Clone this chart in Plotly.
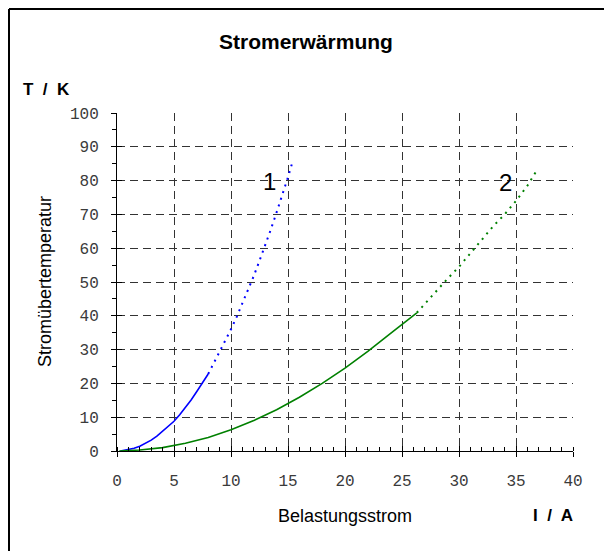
import plotly.graph_objects as go

# curve 1 (blue): measured part and extrapolated part
i1_meas = [0.3, 1.0, 1.5, 2.0, 2.5, 3.0, 3.5, 4.0, 4.5, 5.0, 5.5, 6.0, 6.5, 7.0, 7.5, 8.0]
t1_meas = [0.0, 0.4, 0.8, 1.4, 2.2, 3.2, 4.4, 5.8, 7.2, 8.8, 10.7, 12.8, 15.1, 17.6, 20.2, 22.8]
i1_extra = [8.0, 8.5, 9.0, 9.5, 10.0, 10.5, 11.0, 11.5, 12.0, 12.5, 13.0, 13.5, 14.0, 14.5, 15.0, 15.4]
t1_extra = [22.8, 26.0, 29.2, 32.5, 36.0, 39.7, 43.6, 47.6, 51.8, 56.3, 60.8, 65.6, 70.6, 75.7, 81.0, 85.6]

# curve 2 (green)
i2_meas = [0.2, 2, 4, 5, 6, 8, 10, 12, 14, 16, 18, 20, 22, 24, 26.3]
t2_meas = [0.0, 0.3, 1.0, 1.6, 2.3, 4.0, 6.3, 9.0, 12.2, 15.9, 20.0, 24.5, 29.5, 34.8, 40.9]
i2_extra = [26.3, 27, 28, 29, 30, 31, 32, 33, 34, 35, 36, 36.8]
t2_extra = [40.9, 43.5, 47.5, 51.0, 54.5, 58.5, 62.5, 66.5, 70.0, 74.0, 78.5, 82.9]

BLUE = "#0000ff"
GREEN = "#008000"
TICK_FONT = dict(family="Liberation Mono, DejaVu Sans Mono", size=16, color="#3a3a3a")
SANS = "Liberation Sans, Arial, sans-serif"


# page pixel -> paper coords (plot area spans x 117..573, y 113..451 on the page)
def px(x):
    return (x - 117) / 456


def py(y):
    return (451 - y) / 338


fig = go.Figure()
fig.add_trace(go.Scatter(x=i1_meas, y=t1_meas, mode="lines", line=dict(color=BLUE, width=1.6)))
fig.add_trace(go.Scatter(x=i1_extra, y=t1_extra, mode="lines", line=dict(color=BLUE, width=2, dash="2px,5px")))
fig.add_trace(go.Scatter(x=i2_meas, y=t2_meas, mode="lines", line=dict(color=GREEN, width=1.6)))
fig.add_trace(go.Scatter(x=i2_extra, y=t2_extra, mode="lines", line=dict(color=GREEN, width=2, dash="2px,5px")))

grid = dict(showgrid=True, gridcolor="#333333", gridwidth=1, griddash="8px,5px", zeroline=False,
            showline=True, linecolor="black", linewidth=1, mirror=False)

fig.update_xaxes(range=[0, 40], dtick=5, tickfont=TICK_FONT, ticks="outside", ticklen=5, tickcolor="black",
                 ticklabelstandoff=10,
                 minor=dict(dtick=1, ticks="inside", ticklen=4, tickcolor="black", showgrid=False), **grid)
fig.update_yaxes(range=[0, 100], dtick=10, tickfont=TICK_FONT, ticks="outside", ticklen=5, tickcolor="black",
                 ticklabelstandoff=9,
                 minor=dict(dtick=5, ticks="outside", ticklen=4, tickcolor="black", showgrid=False), **grid)

# inner halves of the crossing major ticks
fig.update_layout(
    xaxis2=dict(overlaying="x", matches="x", range=[0, 40], dtick=5, ticks="inside", ticklen=5,
                tickcolor="black", showticklabels=False, showgrid=False, zeroline=False, side="bottom"),
    yaxis2=dict(overlaying="y", matches="y", range=[0, 100], dtick=10, ticks="inside", ticklen=5,
                tickcolor="black", showticklabels=False, showgrid=False, zeroline=False, side="left"),
)
fig.add_trace(go.Scatter(x=[None], y=[None], xaxis="x2", yaxis="y2", showlegend=False))

NB = "\u00a0"
labels = [
    ("<b>Stromerwärmung</b>", 306, 41, 21, "center"),
    (f"<b>T{NB} /{NB} K</b>", 21, 89, 17, "left"),
    ("Belastungsstrom", 345, 516, 18, "center"),
    (f"<b>I{NB} /{NB} A</b>", 575, 515, 17, "right"),
]
for text, x, y, size, anchor in labels:
    fig.add_annotation(text=text, xref="paper", yref="paper", x=px(x), y=py(y), xanchor=anchor,
                       yanchor="middle", showarrow=False, font=dict(family=SANS, size=size, color="black"))

fig.add_annotation(text="Stromübertemperatur", xref="paper", yref="paper", x=px(45), y=py(282),
                   textangle=-90, showarrow=False, xanchor="center", yanchor="middle",
                   font=dict(family=SANS, size=18, color="black"))

# curve numbers
fig.add_annotation(text="1", x=13.38, y=79.8, showarrow=False, font=dict(family=SANS, size=24, color="black"))
fig.add_annotation(text="2", x=34.1, y=79.5, showarrow=False, font=dict(family=SANS, size=24, color="black"))

# outer frame (top and left edges)
fig.add_shape(type="line", xref="paper", yref="paper", x0=px(9), x1=px(620), y0=py(9), y1=py(9),
              line=dict(color="black", width=2))
fig.add_shape(type="line", xref="paper", yref="paper", x0=px(9), x1=px(9), y0=py(9), y1=py(560),
              line=dict(color="black", width=2))

fig.update_layout(
    width=604, height=543,
    margin=dict(l=109, r=39, t=105, b=100),
    paper_bgcolor="white", plot_bgcolor="white",
    showlegend=False,
)

fig.write_html("out.html")
